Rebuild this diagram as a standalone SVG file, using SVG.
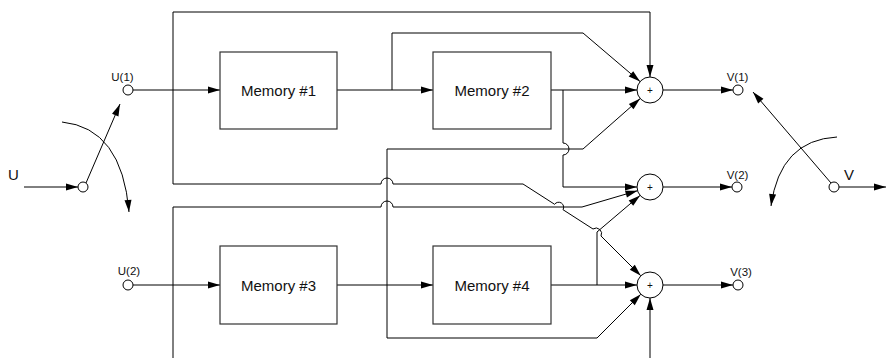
<svg xmlns="http://www.w3.org/2000/svg" width="886" height="358" viewBox="0 0 886 358">
  <defs>
    <marker id="arrow" markerUnits="userSpaceOnUse" markerWidth="13" markerHeight="8" refX="12" refY="3.5" orient="auto" overflow="visible">
      <path d="M0,0 L12,3.5 L0,7 z" fill="#000"/>
    </marker>
    <style>
      .wire { fill: none; stroke: #000; stroke-width: 1; }
      .arr { marker-end: url(#arrow); }
      .box { fill: #fff; stroke: #333; stroke-width: 1.2; }
      .port { fill: #fff; stroke: #000; stroke-width: 1; }
      .sum { fill: #fff; stroke: #000; stroke-width: 1; }
      .lbl { font-family: "Liberation Sans", Arial, sans-serif; fill: #111; text-anchor: middle; }
      .mem { font-size: 15px; }
      .small { font-size: 11.5px; }
      .big { font-size: 15px; }
      .plus { font-size: 10px; }
    </style>
  </defs>

  <!-- connectors -->
  <g id="connectors">
    <!-- input switch -->
    <path class="wire arr" d="M24,187 H78"/>
    <path class="wire arr" d="M86,183 L120,104"/>
    <path class="wire arr" d="M62,122 Q122,128 129,212"/>

    <!-- inputs into memories -->
    <path class="wire arr" d="M133,90 H220"/>
    <path class="wire arr" d="M133,285 H220"/>
    <path class="wire arr" d="M337,90 H433"/>
    <path class="wire arr" d="M337,285 H433"/>

    <!-- U(1) direct feed to top summer -->
    <path class="wire arr" d="M173,90 V12 H650 V77"/>
    <!-- U(1) feed to bottom summer -->
    <path class="wire arr" d="M173,90 V184 H381 A6,6 0 0 1 393,184 H523 L554.6,204.3 A5,5 0 0 1 563,209.7 L593,229 A5.5,5.5 0 0 1 601,236 L640.8,275.8"/>
    <!-- U(2) feed to middle summer -->
    <path class="wire arr" d="M173,358 V207 H381 A6,6 0 0 1 393,207 H582 L637.5,190.7"/>
    <!-- U(2) feed to bottom summer (from below) -->
    <path class="wire arr" d="M650,358 V298"/>

    <!-- Memory #1 tap to top summer -->
    <path class="wire arr" d="M392,90 V33 H583 L640.1,81.6"/>
    <!-- Memory #2 out -->
    <path class="wire arr" d="M551,90 H637"/>
    <!-- Memory #2 tap to middle summer -->
    <path class="wire arr" d="M563,90 V143 A6,6 0 0 1 563,155 V187 H637"/>

    <!-- Memory #3 tap to top summer -->
    <path class="wire arr" d="M387,285 V149 H583 L640.2,98.6"/>
    <!-- Memory #3 tap to bottom summer -->
    <path class="wire arr" d="M387,285 V338 H597 L640.8,294.2"/>

    <!-- Memory #4 out -->
    <path class="wire arr" d="M551,285 H637"/>
    <!-- Memory #4 tap to middle summer -->
    <path class="wire arr" d="M597,285 V232 L640.1,195.4"/>

    <!-- summer outputs -->
    <path class="wire arr" d="M663,90 H733"/>
    <path class="wire arr" d="M663,187 H732"/>
    <path class="wire arr" d="M663,285 H733"/>

    <!-- output switch -->
    <path class="wire arr" d="M839,187 H886"/>
    <path class="wire arr" d="M831,183 L753,92"/>
    <path class="wire arr" d="M837,137 Q780,140 771,206"/>
  </g>

  <!-- ports -->
  <g id="port-U">
    <circle class="port" cx="83" cy="187" r="5"/>
    <text class="lbl big" x="13.5" y="180">U</text>
  </g>
  <g id="port-U1">
    <circle class="port" cx="128" cy="90" r="5"/>
    <text class="lbl small" x="122.5" y="81">U(1)</text>
  </g>
  <g id="port-U2">
    <circle class="port" cx="128" cy="285" r="5"/>
    <text class="lbl small" x="129" y="275">U(2)</text>
  </g>
  <g id="port-V1">
    <circle class="port" cx="738" cy="90" r="5"/>
    <text class="lbl small" x="737.5" y="81">V(1)</text>
  </g>
  <g id="port-V2">
    <circle class="port" cx="737" cy="187" r="5"/>
    <text class="lbl small" x="737.5" y="179">V(2)</text>
  </g>
  <g id="port-V3">
    <circle class="port" cx="738" cy="285" r="5"/>
    <text class="lbl small" x="741" y="276">V(3)</text>
  </g>
  <g id="port-V">
    <circle class="port" cx="834" cy="187" r="5"/>
    <text class="lbl big" x="849" y="180">V</text>
  </g>

  <!-- memories -->
  <g id="memory-1">
    <rect class="box" x="220" y="52" width="117" height="77"/>
    <text class="lbl mem" x="278.5" y="96">Memory #1</text>
  </g>
  <g id="memory-2">
    <rect class="box" x="433" y="52" width="118" height="77"/>
    <text class="lbl mem" x="492" y="96">Memory #2</text>
  </g>
  <g id="memory-3">
    <rect class="box" x="220" y="246" width="117" height="78"/>
    <text class="lbl mem" x="278.5" y="290.5">Memory #3</text>
  </g>
  <g id="memory-4">
    <rect class="box" x="433" y="246" width="118" height="78"/>
    <text class="lbl mem" x="492" y="290.5">Memory #4</text>
  </g>

  <!-- summers -->
  <g id="sum-1">
    <circle class="sum" cx="650" cy="90" r="13"/>
    <text class="lbl plus" x="650" y="93.5">+</text>
  </g>
  <g id="sum-2">
    <circle class="sum" cx="650" cy="187" r="13"/>
    <text class="lbl plus" x="650" y="190.5">+</text>
  </g>
  <g id="sum-3">
    <circle class="sum" cx="650" cy="285" r="13"/>
    <text class="lbl plus" x="650" y="288.5">+</text>
  </g>
</svg>
